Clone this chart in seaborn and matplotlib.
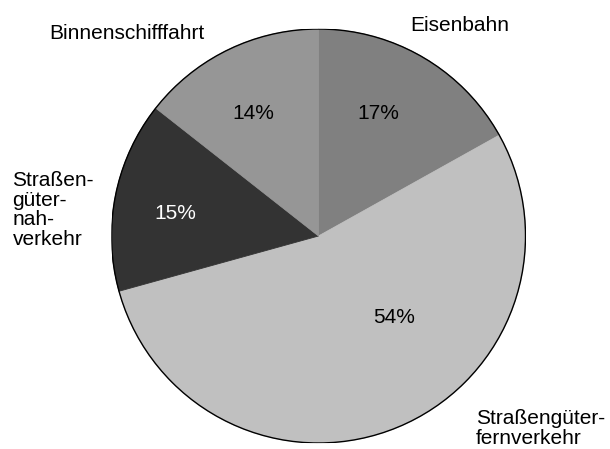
import matplotlib
matplotlib.use("Agg")
import matplotlib.pyplot as plt
from matplotlib.patches import Circle
import seaborn as sns

# Data
categories = ["Eisenbahn", "Straßengüter-\nfernverkehr", "Straßen-\ngüter-\nnah-\nverkehr", "Binnenschifffahrt"]
shares = [16.9, 53.8, 14.9, 14.4]
colors = ["#808080", "#c0c0c0", "#333333", "#969696"]
pct_colors = ["#000000", "#000000", "#ffffff", "#000000"]

sns.set_theme(style="white")
plt.rcParams["font.family"] = ["Liberation Sans", "DejaVu Sans"]

W, H = 610, 449
fig = plt.figure(figsize=(W / 100, H / 100), dpi=100)
cx, cy, r = 318.5, 236, 207
ax = fig.add_axes([(cx - r) / W, (H - cy - r) / H, 2 * r / W, 2 * r / H])

wedges, texts, autotexts = ax.pie(
    shares, colors=colors, startangle=90, counterclock=False,
    autopct="%.0f%%", pctdistance=0.66, radius=1,
    wedgeprops=dict(linewidth=0.6), textprops=dict(fontsize=15),
)
for w in wedges:
    w.set_edgecolor(w.get_facecolor())
for t, c in zip(autotexts, pct_colors):
    t.set_color(c)
# percentage labels sit off the wedge bisectors in the reference
autotexts[0].set_position((0.29, 0.59))
autotexts[1].set_position((0.367, -0.392))
autotexts[2].set_position((-0.69, 0.11))
autotexts[3].set_position((-0.315, 0.59))

ax.add_patch(Circle((0, 0), 1, fill=False, edgecolor="black", linewidth=1.0))
ax.set_xlim(-1, 1)
ax.set_ylim(-1, 1)
ax.set_aspect("equal")
ax.axis("off")

# Outer category labels (pixel positions: left x, last-line baseline y)
label_pos = [(410, 31), (476, 444), (12.5, 245), (49, 39)]
for name, (px, py) in zip(categories, label_pos):
    fig.text(px / W, (H - py) / H, name, ha="left", va="baseline",
             fontsize=15, color="black", linespacing=1.05)

fig.savefig("out.png", dpi=100, facecolor="white")
